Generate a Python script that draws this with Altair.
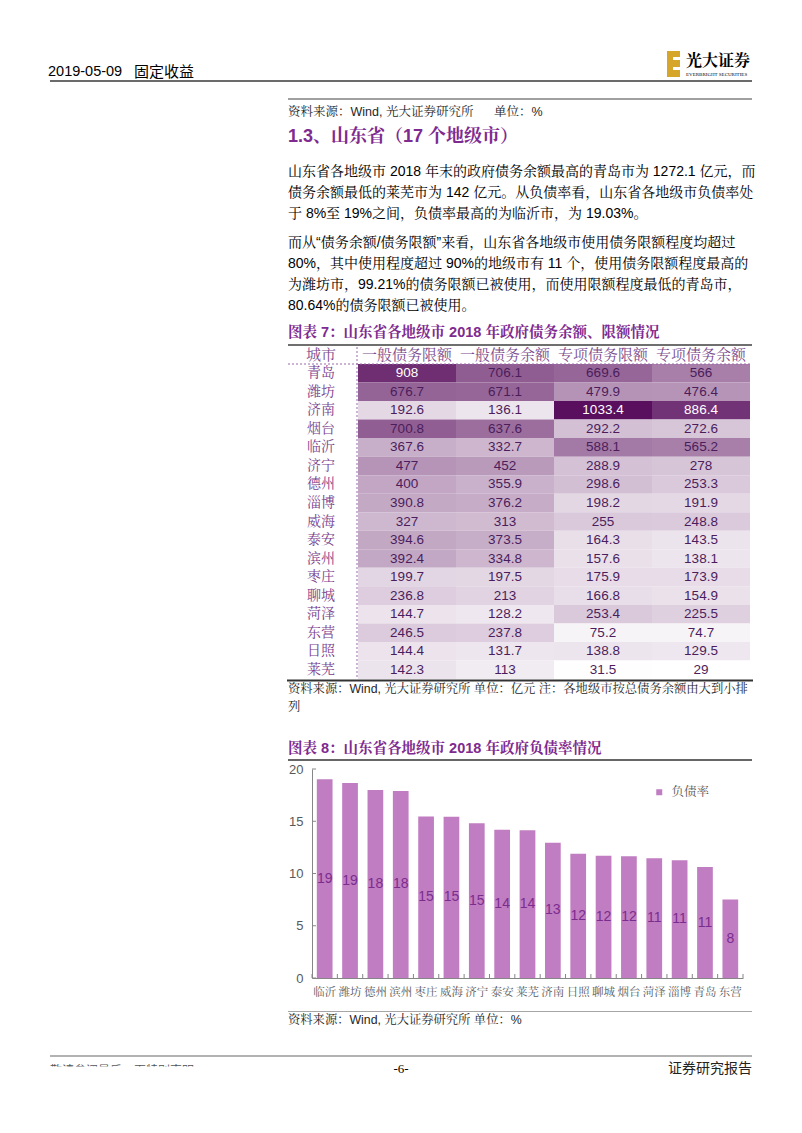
import altair as alt
import pandas as pd

# ---------------- data ----------------
table_cities = ["青岛", "潍坊", "济南", "烟台", "临沂", "济宁", "德州", "淄博", "威海",
                "泰安", "滨州", "枣庄", "聊城", "菏泽", "东营", "日照", "莱芜"]
table_columns = ["一般债务限额", "一般债务余额", "专项债务限额", "专项债务余额"]
general_limit = [908, 676.7, 192.6, 700.8, 367.6, 477, 400, 390.8, 327, 394.6, 392.4,
                 199.7, 236.8, 144.7, 246.5, 144.4, 142.3]
general_balance = [706.1, 671.1, 136.1, 637.6, 332.7, 452, 355.9, 376.2, 313, 373.5, 334.8,
                   197.5, 213, 128.2, 237.8, 131.7, 113]
special_limit = [669.6, 479.9, 1033.4, 292.2, 588.1, 288.9, 298.6, 198.2, 255, 164.3, 157.6,
                 175.9, 166.8, 253.4, 75.2, 138.8, 31.5]
special_balance = [566, 476.4, 886.4, 272.6, 565.2, 278, 253.3, 191.9, 248.8, 143.5, 138.1,
                   173.9, 154.9, 225.5, 74.7, 129.5, 29]

rate_cities = ["临沂", "潍坊", "德州", "滨州", "枣庄", "威海", "济宁", "泰安", "莱芜",
               "济南", "日照", "聊城", "烟台", "菏泽", "淄博", "青岛", "东营"]
debt_rate = [19.03, 18.66, 17.99, 17.9, 15.46, 15.44, 14.8, 14.18, 14.14,
             12.95, 11.9, 11.7, 11.65, 11.45, 11.26, 10.62, 7.52]
rate_series = "负债率"
rate_ticks = [0, 5, 10, 15, 20]

# ---------------- styling helpers ----------------
P = 8  # page margin: page coordinate -> svg coordinate
BODY = "Liberation Sans, Noto Serif CJK SC, Noto Sans CJK SC"
CJK = "Noto Serif CJK SC, Noto Sans CJK SC"
NUM = "Liberation Sans, Arial, sans-serif"
PURPLE = "#7E2A8F"
one = pd.DataFrame({"k": [0]})


def text(s, x, y, size=14, color="#000000", weight="normal", align="left", font=BODY):
    return alt.Chart(one).mark_text(
        text=s, fontSize=size, color=color, fontWeight=weight, align=align,
        baseline="middle", font=font
    ).encode(x=alt.value(x - P), y=alt.value(y - P))


def hline(x1, x2, y, color, width=1.0, dash=None):
    kw = dict(color=color, strokeWidth=width)
    if dash:
        kw["strokeDash"] = dash
    return alt.Chart(one).mark_rule(**kw).encode(
        x=alt.value(x1 - P), x2=alt.value(x2 - P), y=alt.value(y - P))


def vline(x, y1, y2, color, width=1.0, dash=None):
    kw = dict(color=color, strokeWidth=width)
    if dash:
        kw["strokeDash"] = dash
    return alt.Chart(one).mark_rule(**kw).encode(
        x=alt.value(x - P), y=alt.value(y1 - P), y2=alt.value(y2 - P))


def box(x1, x2, y1, y2, color):
    return alt.Chart(one).mark_rect(color=color).encode(
        x=alt.value(x1 - P), x2=alt.value(x2 - P), y=alt.value(y1 - P), y2=alt.value(y2 - P))


layers = []

# ---------------- page header ----------------
layers += [
    text("2019-05-09", 48, 72, size=14.5, font="Liberation Sans Narrow, Liberation Sans"),
    text("固定收益", 134, 72, size=15, font="Noto Sans CJK SC"),
    box(667, 680, 51, 77, "#D6A62A"),
    box(673, 680, 57, 60, "#FFFFFF"),
    box(673, 680, 67, 70, "#FFFFFF"),
    text("光大证券", 686, 61, size=16, weight="bold", font=CJK),
    text("EVERBRIGHT SECURITIES", 686, 73.5, size=5, font="Liberation Serif"),
    hline(50, 752, 81, "#3A3A3A", 1.5),
    hline(288, 752, 99, "#A0A0A0", 2),
    text("资料来源：Wind, 光大证券研究所", 288, 112, size=12.5, color="#262626"),
    text("单位：%", 494, 112, size=12.5, color="#262626"),
]

# ---------------- section text ----------------
paragraph = [
    ("山东省各地级市 2018 年末的政府债务余额最高的青岛市为 1272.1 亿元，而", 172),
    ("债务余额最低的莱芜市为 142 亿元。从负债率看，山东省各地级市负债率处", 193),
    ("于 8%至 19%之间，负债率最高的为临沂市，为 19.03%。", 214),
    ("而从“债务余额/债务限额”来看，山东省各地级市使用债务限额程度均超过", 243),
    ("80%，其中使用程度超过 90%的地级市有 11 个，使用债务限额程度最高的", 264),
    ("为潍坊市，99.21%的债务限额已被使用，而使用限额程度最低的青岛市，", 285),
    ("80.64%的债务限额已被使用。", 306),
]
layers.append(text("1.3、山东省（17 个地级市）", 288, 137, size=18, color=PURPLE, weight="bold"))
for s, y in paragraph:
    layers.append(text(s, 288, y, size=14))

layers += [
    text("图表 7：山东省各地级市 2018 年政府债务余额、限额情况", 288, 333, size=14.5,
         color=PURPLE, weight="bold"),
    hline(288, 752, 345, "#3F3F3F", 1.5),
]

# ---------------- heatmap table ----------------
rows = []
for col, vals in zip(table_columns, [general_limit, general_balance, special_limit, special_balance]):
    for c, v in zip(table_cities, vals):
        rows.append({"city": c, "item": col, "value": v, "label": f"{v:g}"})
heat = pd.DataFrame(rows)
vmin, vmax = heat["value"].min(), heat["value"].max()

xs_heat = alt.X("item:N", scale=alt.Scale(domain=table_columns, range=[358 - P, 750 - P],
                                          paddingInner=0, paddingOuter=0), axis=None)
ys_heat = alt.Y("city:N", scale=alt.Scale(domain=table_cities, range=[364 - P, 679 - P],
                                          paddingInner=0, paddingOuter=0), axis=None)

heat_rect = alt.Chart(heat).mark_rect().encode(
    x=xs_heat, y=ys_heat,
    color=alt.Color("value:Q", legend=None,
                    scale=alt.Scale(domain=[vmin, vmax], range=["#FFFFFF", "#5A0F5E"],
                                    interpolate="rgb")))
heat_text = alt.Chart(heat).mark_text(fontSize=13.5, font=NUM).encode(
    x=xs_heat, y=ys_heat, text="label:N",
    color=alt.condition("datum.value > 800", alt.value("#FFFFFF"), alt.value("#4B1D5C")))
city_labels = alt.Chart(pd.DataFrame({"city": table_cities})).mark_text(
    fontSize=14, color="#7A3F8E", font=CJK).encode(
    x=alt.value(321 - P), y=ys_heat, text="city:N")
col_labels = alt.Chart(pd.DataFrame({"item": table_columns})).mark_text(
    fontSize=15, color="#7D4D8E", font=CJK, baseline="middle").encode(
    x=xs_heat, y=alt.value(354.5 - P), text="item:N")

layers += [
    heat_rect, heat_text, city_labels, col_labels,
    text("城市", 321, 354.5, size=15, color="#7D4D8E", align="center", font=CJK),
    hline(288, 750, 364, "#9A6AAA", 1, [2, 2]),
    vline(357, 347, 679, "#9A6AAA", 1, [2, 2]),
    hline(287, 753, 680.5, "#333333", 1.8),
    text("资料来源：Wind, 光大证券研究所 单位：亿元   注：各地级市按总债务余额由大到小排",
         288, 689, size=12.3, color="#262626"),
    text("列", 288, 707, size=12.3, color="#262626"),
    text("图表 8：山东省各地级市 2018 年政府负债率情况", 288, 749, size=14.5,
         color=PURPLE, weight="bold"),
    hline(288, 752, 760, "#333333", 1.5),
]

# ---------------- bar chart ----------------
bar_df = pd.DataFrame({"city": rate_cities, "rate": debt_rate, "series": rate_series})
X_RANGE = [312 - P, 743 - P]
Y_RANGE = [978 - P, 769 - P]

xb_scale = alt.Scale(domain=rate_cities, range=X_RANGE, paddingInner=0.38, paddingOuter=0.19)
yb_scale = alt.Scale(domain=[0, 20], range=Y_RANGE, nice=False, zero=True)

bars = alt.Chart(bar_df).mark_bar().encode(
    x=alt.X("city:N", scale=xb_scale,
            axis=alt.Axis(orient="bottom", offset=-(1117 - (978 - P)), title=None, labelAngle=0,
                          ticks=False, labelPadding=8, labelFontSize=11.5,
                          labelColor="#595959", labelFont=CJK, domainColor="#868686",
                          domainWidth=1)),
    y=alt.Y("rate:Q", scale=yb_scale,
            axis=alt.Axis(orient="left", offset=-(312 - P), title=None, values=rate_ticks,
                          grid=False, ticks=False, labelPadding=9, labelFontSize=13,
                          labelColor="#595959", labelFont=NUM, domainColor="#868686",
                          domainWidth=1)),
    color=alt.Color("series:N", scale=alt.Scale(range=["#C17DC1"]),
                    legend=alt.Legend(orient="none", legendX=653 - P, legendY=786 - P,
                                      title=None, symbolType="square", symbolSize=36,
                                      symbolStrokeWidth=0, labelFontSize=12.5,
                                      labelColor="#595959", labelFont=CJK, padding=0,
                                      labelOffset=6)),
)

bar_labels = alt.Chart(bar_df).transform_calculate(mid="datum.rate / 2").mark_text(
    fontSize=14, color="#7B2C8F", font=NUM).encode(
    x=alt.X("city:N", scale=xb_scale, axis=None),
    y=alt.Y("mid:Q", scale=yb_scale, axis=None),
    text=alt.Text("rate:Q", format=".0f"))

y_ticks = alt.Chart(pd.DataFrame({"t": rate_ticks})).mark_rule(color="#868686").encode(
    y=alt.Y("t:Q", scale=yb_scale, axis=None),
    x=alt.value(312 - P), x2=alt.value(316 - P))

x_ticks = alt.Chart(bar_df).mark_rule(color="#868686").encode(
    x=alt.X("city:N", bandPosition=0, axis=None,
            scale=alt.Scale(domain=rate_cities, range=X_RANGE, paddingInner=0, paddingOuter=0)),
    y=alt.value(974 - P), y2=alt.value(978 - P))

layers += [
    bars, bar_labels, y_ticks, x_ticks,
    vline(743, 974, 978, "#868686"),
    hline(288, 752, 1011.5, "#A6A6A6", 1),
    text("资料来源：Wind, 光大证券研究所 单位：%", 288, 1020, size=12.3, color="#262626"),
]

# ---------------- page footer ----------------
layers += [
    hline(50, 752, 1056, "#999999", 1.5),
    text("敬请参阅最后一页特别声明", 50, 1071, size=12, color="#555555", font="Noto Sans CJK SC"),
    box(46, 200, 1066.5, 1082, "#FFFFFF"),
    text("-6-", 401, 1069, size=13, align="center", font="Liberation Serif"),
    text("证券研究报告", 752, 1069, size=14, align="right", color="#222222",
         font="Noto Sans CJK SC"),
]

chart = alt.layer(*layers).resolve_scale(
    x="independent", y="independent", color="independent"
).properties(
    width=786, height=1117, padding=0,
    autosize=alt.AutoSizeParams(type="none"),
    background="#FFFFFF",
).configure_view(strokeWidth=0)

chart.save("out.html", embed_options={"renderer": "svg", "actions": False})
